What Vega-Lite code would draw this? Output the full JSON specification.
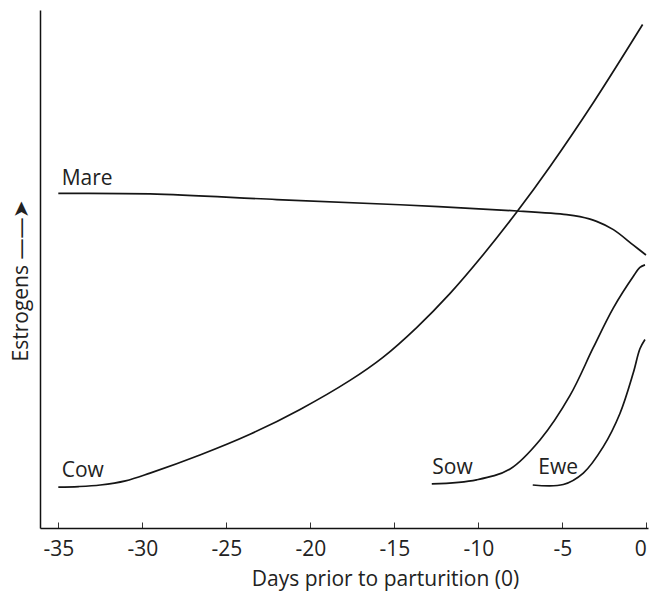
{
  "$schema": "https://vega.github.io/schema/vega-lite/v6.json",
  "width": 608,
  "height": 518,
  "autosize": {"type": "none"},
  "padding": {"left": 40, "top": 10, "right": 3, "bottom": 63},
  "background": "white",
  "config": {
    "view": {"stroke": null},
    "font": "Open Sans"
  },
  "datasets": {
    "curves": [
      {"series": "Cow", "day": -35.0, "level": 7.9},
      {"series": "Cow", "day": -33.8, "level": 8.0},
      {"series": "Cow", "day": -32.5, "level": 8.3},
      {"series": "Cow", "day": -31.0, "level": 9.1},
      {"series": "Cow", "day": -29.54, "level": 10.6},
      {"series": "Cow", "day": -26.57, "level": 14.1},
      {"series": "Cow", "day": -23.59, "level": 18.1},
      {"series": "Cow", "day": -20.61, "level": 22.9},
      {"series": "Cow", "day": -17.64, "level": 28.5},
      {"series": "Cow", "day": -15.66, "level": 33.0},
      {"series": "Cow", "day": -13.67, "level": 38.7},
      {"series": "Cow", "day": -11.68, "level": 45.3},
      {"series": "Cow", "day": -9.7, "level": 52.8},
      {"series": "Cow", "day": -7.71, "level": 61.0},
      {"series": "Cow", "day": -5.73, "level": 69.8},
      {"series": "Cow", "day": -3.1, "level": 82.4},
      {"series": "Cow", "day": -0.22, "level": 97.2},
      {"series": "Mare", "day": -35.0, "level": 64.6},
      {"series": "Mare", "day": -29.54, "level": 64.5},
      {"series": "Mare", "day": -22.0, "level": 63.4},
      {"series": "Mare", "day": -14.66, "level": 62.4},
      {"series": "Mare", "day": -7.68, "level": 61.2},
      {"series": "Mare", "day": -4.74, "level": 60.5},
      {"series": "Mare", "day": -3.95, "level": 60.1},
      {"series": "Mare", "day": -2.96, "level": 59.2},
      {"series": "Mare", "day": -1.96, "level": 57.6},
      {"series": "Mare", "day": -0.77, "level": 54.6},
      {"series": "Mare", "day": -0.02, "level": 52.7},
      {"series": "Sow", "day": -12.77, "level": 8.5},
      {"series": "Sow", "day": -10.1, "level": 9.3},
      {"series": "Sow", "day": -8.11, "level": 11.4},
      {"series": "Sow", "day": -6.33, "level": 17.0},
      {"series": "Sow", "day": -4.54, "level": 25.6},
      {"series": "Sow", "day": -3.16, "level": 34.8},
      {"series": "Sow", "day": -1.96, "level": 42.5},
      {"series": "Sow", "day": -0.77, "level": 48.6},
      {"series": "Sow", "day": -0.38, "level": 50.3},
      {"series": "Sow", "day": -0.08, "level": 50.8},
      {"series": "Ewe", "day": -6.76, "level": 8.3},
      {"series": "Ewe", "day": -4.94, "level": 8.4},
      {"series": "Ewe", "day": -3.75, "level": 10.6},
      {"series": "Ewe", "day": -2.56, "level": 15.7},
      {"series": "Ewe", "day": -1.57, "level": 22.1},
      {"series": "Ewe", "day": -0.78, "level": 29.9},
      {"series": "Ewe", "day": -0.38, "level": 34.6},
      {"series": "Ewe", "day": -0.08, "level": 36.4}
    ],
    "labels": [
      {"series": "Mare", "day": -34.8, "level": 66.2},
      {"series": "Cow", "day": -34.8, "level": 9.9},
      {"series": "Sow", "day": -12.74, "level": 10.4},
      {"series": "Ewe", "day": -6.43, "level": 10.4}
    ]
  },
  "encoding": {
    "x": {
      "field": "day",
      "type": "quantitative",
      "scale": {"domain": [-36.09, 0.1], "nice": false, "zero": false},
      "axis": {
        "title": "Days prior to parturition (0)",
        "values": [-35, -30, -25, -20, -15, -10, -5, 0],
        "labelExpr": "datum.value < 0 ? '-' + abs(datum.value) : '' + datum.value",
        "grid": false,
        "domainColor": "#111",
        "domainWidth": 1.5,
        "tickColor": "#333",
        "tickWidth": 1,
        "tickSize": -6,
        "labelPadding": 33,
        "labelBaseline": "alphabetic",
        "labelFont": "Open Sans",
        "labelFontSize": 21,
        "labelColor": "#222",
        "labelFlush": 4,
        "labelFlushOffset": 0,
        "labelOverlap": false,
        "titleFont": "Open Sans",
        "titleFontSize": 21,
        "titleFontWeight": "normal",
        "titleColor": "#222",
        "titleBaseline": "alphabetic",
        "titleAlign": "center",
        "titleX": 345,
        "titleY": 57
      }
    },
    "y": {
      "field": "level",
      "type": "quantitative",
      "scale": {"domain": [0, 100], "nice": false, "zero": false},
      "axis": {
        "title": "Estrogens ——➤",
        "ticks": false,
        "labels": false,
        "grid": false,
        "domainColor": "#111",
        "domainWidth": 1.5,
        "titleFont": "Open Sans",
        "titleFontSize": 21,
        "titleFontWeight": "normal",
        "titleColor": "#222",
        "titleAngle": -90,
        "titleBaseline": "alphabetic",
        "titleAlign": "center",
        "titleX": -13,
        "titleY": 270
      }
    }
  },
  "layer": [
    {
      "data": {"name": "curves"},
      "mark": {"type": "line", "interpolate": "catmull-rom", "color": "#151515", "strokeWidth": 1.7, "clip": false},
      "encoding": {
        "detail": {"field": "series", "type": "nominal"}
      }
    },
    {
      "data": {"name": "labels"},
      "mark": {"type": "text", "align": "left", "baseline": "alphabetic", "font": "Open Sans", "fontSize": 21, "color": "#222"},
      "encoding": {
        "text": {"field": "series", "type": "nominal"}
      }
    }
  ]
}
